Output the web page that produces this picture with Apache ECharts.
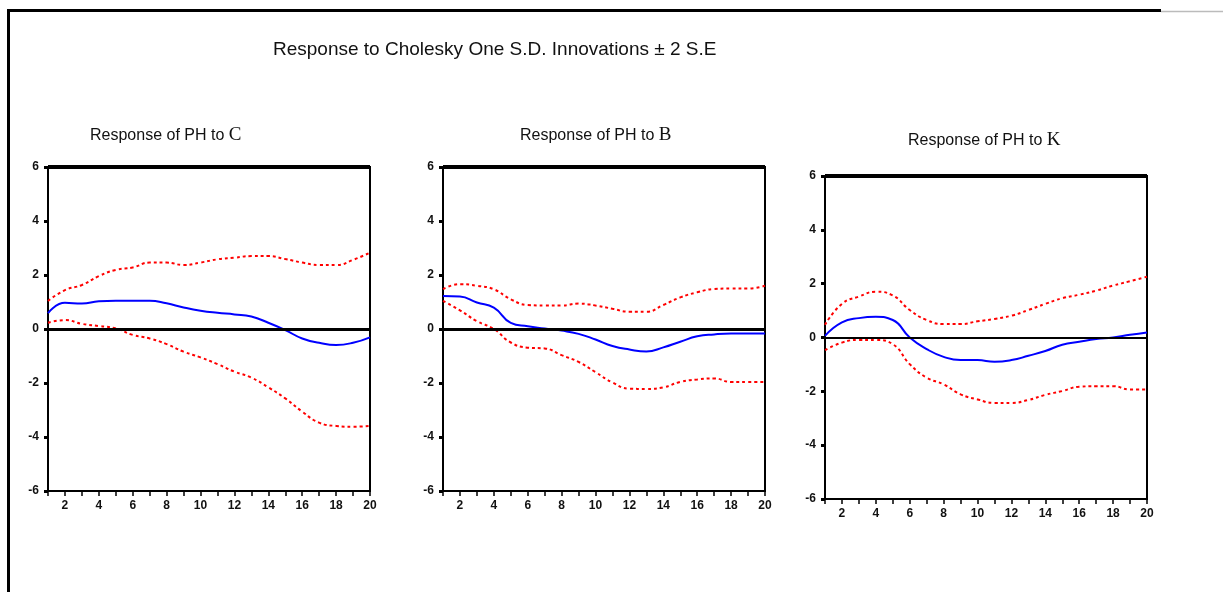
<!DOCTYPE html>
<html>
<head>
<meta charset="utf-8">
<script src="https://cdn.jsdelivr.net/npm/echarts@6/dist/echarts.min.js"></script>
<style>
html,body{margin:0;padding:0;background:#fff;}
#chart{width:1223px;height:592px;}
</style>
</head>
<body>
<div id="chart"></div>
<script>
// Periods 1..20
const periods = [1,2,3,4,5,6,7,8,9,10,11,12,13,14,15,16,17,18,19,20];
const xTickLabels = ['2','4','6','8','10','12','14','16','18','20'];
const yTicks = [-6,-4,-2,0,2,4,6];

// Response of PH to C
const respC  = [0.59,0.97,0.94,1.03,1.05,1.05,1.05,0.95,0.80,0.68,0.60,0.54,0.46,0.23,-0.04,-0.35,-0.51,-0.59,-0.51,-0.31];
const upperC = [1.04,1.44,1.63,1.96,2.19,2.28,2.46,2.46,2.37,2.46,2.58,2.64,2.70,2.70,2.59,2.46,2.37,2.37,2.56,2.83];
const lowerC = [0.23,0.33,0.19,0.11,0.02,-0.22,-0.35,-0.56,-0.84,-1.05,-1.30,-1.58,-1.80,-2.16,-2.57,-3.06,-3.47,-3.59,-3.62,-3.59];

// Response of PH to B
const respB  = [1.22,1.20,0.98,0.79,0.23,0.10,0.02,-0.06,-0.18,-0.39,-0.63,-0.76,-0.83,-0.68,-0.47,-0.27,-0.20,-0.17,-0.17,-0.17];
const upperB = [1.48,1.66,1.60,1.47,1.10,0.89,0.87,0.87,0.94,0.87,0.75,0.64,0.64,0.89,1.17,1.36,1.48,1.50,1.50,1.60];
const lowerB = [1.04,0.69,0.29,0.00,-0.50,-0.69,-0.72,-0.97,-1.22,-1.60,-1.98,-2.21,-2.22,-2.16,-1.96,-1.87,-1.83,-1.96,-1.96,-1.96];

// Response of PH to K
const respK  = [0.06,0.56,0.72,0.77,0.65,0.00,-0.43,-0.72,-0.84,-0.84,-0.90,-0.84,-0.68,-0.50,-0.27,-0.16,-0.06,0.00,0.10,0.19];
const upperK = [0.47,1.25,1.52,1.70,1.56,1.02,0.65,0.50,0.50,0.60,0.69,0.81,1.02,1.25,1.46,1.59,1.74,1.93,2.09,2.26];
const lowerK = [-0.47,-0.19,-0.09,-0.09,-0.25,-0.99,-1.49,-1.74,-2.11,-2.30,-2.43,-2.43,-2.32,-2.13,-1.99,-1.83,-1.81,-1.81,-1.93,-1.93];

const mainTitle = 'Response to Cholesky One S.D. Innovations \u00b1 2 S.E';
const panelShocks = ['C','B','K'];
const panelData = [[respC,upperC,lowerC],[respB,upperB,lowerB],[respK,upperK,lowerK]];

const NARROW = "'Liberation Sans Narrow','Liberation Sans',Arial,sans-serif";
const SERIF = "'Liberation Serif','DejaVu Serif',serif";

const grids = [
  {left:48, top:167, width:322, height:324},
  {left:443, top:167, width:322, height:324},
  {left:825, top:176, width:322, height:323}
];
const titlePos = [{left:85, top:121},{left:515, top:121},{left:903, top:126}];

function pairs(arr){ return periods.map((p,i)=>[p,arr[i]]); }

const option = {
  animation:false,
  backgroundColor:'#fff',
  title:[{
    text:mainTitle, left:268, top:35,
    textStyle:{fontFamily:NARROW, fontSize:19, fontWeight:'normal', color:'#111'}
  }].concat(panelShocks.map((s,i)=>({
    text:'{a|Response of PH to }{b|'+s+'}', left:titlePos[i].left, top:titlePos[i].top,
    textStyle:{fontWeight:'normal', rich:{
      a:{fontFamily:NARROW, fontSize:16, fontWeight:'normal', color:'#111'},
      b:{fontFamily:SERIF, fontSize:19, fontWeight:'normal', color:'#111'}
    }}
  }))),
  grid:grids.map(g=>Object.assign({show:true, borderColor:'#000', borderWidth:2, backgroundColor:'#fff'},g)),
  xAxis:grids.map((g,i)=>({
    type:'value', gridIndex:i, min:1, max:20, interval:1,
    axisLine:{show:true, onZero:false, lineStyle:{color:'#000', width:2}},
    axisTick:{show:true, length:5, lineStyle:{color:'#000', width:1.5}},
    splitLine:{show:false},
    axisLabel:{margin:9, fontFamily:NARROW, fontSize:12, fontWeight:'bold', color:'#111',
      formatter:v=> xTickLabels.indexOf(String(v))>=0 ? String(v) : ''}
  })),
  yAxis:grids.map((g,i)=>({
    type:'value', gridIndex:i, min:-6, max:6, interval:2,
    axisLine:{show:true, lineStyle:{color:'#000', width:2}},
    axisTick:{show:true, length:4, lineStyle:{color:'#000', width:3}},
    splitLine:{show:false},
    axisLabel:{margin:9, fontFamily:NARROW, fontSize:12, fontWeight:'bold', color:'#111',
      formatter:v=> yTicks.indexOf(v)>=0 ? String(v) : ''}
  })),
  series:[]
};

panelData.forEach((d,i)=>{
  option.series.push({
    type:'line', xAxisIndex:i, yAxisIndex:i, data:[], silent:true, z:1,
    markLine:{silent:true, symbol:'none', label:{show:false},
      data:[
        {yAxis:0, lineStyle:{color:'#000', width: i===2 ? 2 : 3, type:'solid'}},
        {yAxis:6, lineStyle:{color:'#000', width:4, type:'solid'}}
      ]}
  });
  option.series.push({
    type:'line', xAxisIndex:i, yAxisIndex:i, data:pairs(d[0]), showSymbol:false, smooth:true, z:3,
    lineStyle:{color:'#0000ff', width:2}
  });
  option.series.push({
    type:'line', xAxisIndex:i, yAxisIndex:i, data:pairs(d[1]), showSymbol:false, smooth:true, z:3,
    lineStyle:{color:'#ff0000', width:2, type:[3,3]}
  });
  option.series.push({
    type:'line', xAxisIndex:i, yAxisIndex:i, data:pairs(d[2]), showSymbol:false, smooth:true, z:3,
    lineStyle:{color:'#ff0000', width:2, type:[3,3]}
  });
});

option.graphic = [
  {type:'line', shape:{x1:8.5, y1:10.5, x2:1161, y2:10.5}, style:{stroke:'#000', lineWidth:3}},
  {type:'line', shape:{x1:1161, y1:11.5, x2:1223, y2:11.5}, style:{stroke:'#bbb', lineWidth:1.5}},
  {type:'line', shape:{x1:8.5, y1:9, x2:8.5, y2:592}, style:{stroke:'#000', lineWidth:3}}
];

const chart = echarts.init(document.getElementById('chart'), null, {renderer:'canvas'});
chart.setOption(option);
</script>
</body>
</html>
